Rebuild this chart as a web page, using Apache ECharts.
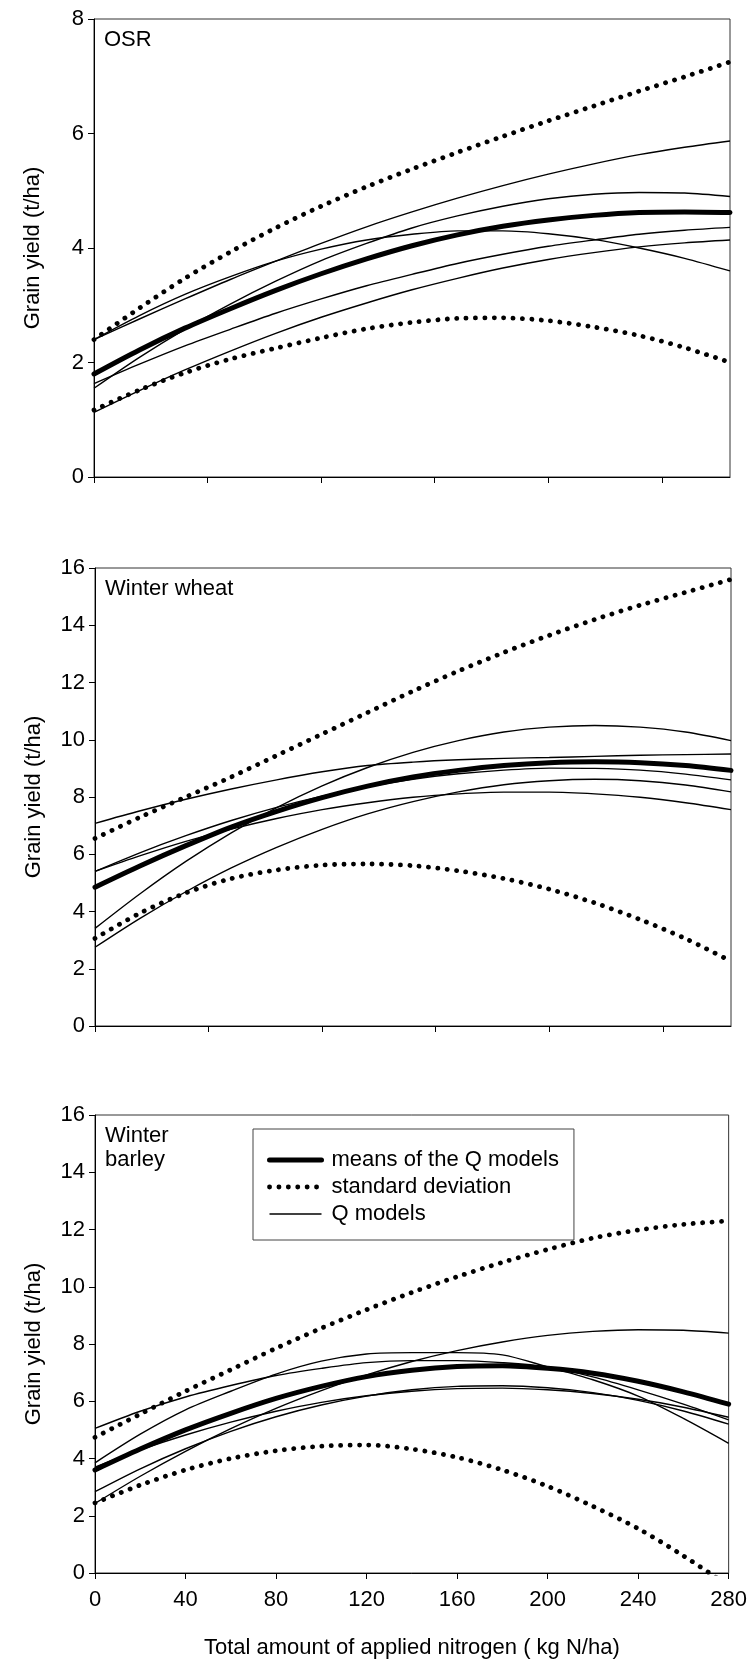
<!DOCTYPE html>
<html>
<head>
<meta charset="utf-8">
<title>Grain yield response to nitrogen</title>
<script src="https://cdn.jsdelivr.net/npm/echarts@6/dist/echarts.min.js"></script>
<style>
  html, body { margin: 0; padding: 0; background: #fff; }
  #chart { width: 750px; height: 1661px; }
</style>
</head>
<body>
<div id="chart"></div>
<script>
// nitrogen rates (kg N/ha) at which every curve was read
var nRates = [0, 20, 40, 60, 80, 100, 120, 140, 160, 180, 200, 220, 240, 260, 280];

// ---- OSR (t/ha) ----
var osrMean  = [1.8, 2.22, 2.6, 2.94, 3.26, 3.55, 3.81, 4.04, 4.23, 4.38, 4.49, 4.57, 4.62, 4.63, 4.62];
var osrUpper = [2.4, 2.95, 3.47, 3.93, 4.35, 4.73, 5.07, 5.38, 5.67, 5.95, 6.22, 6.48, 6.74, 6.99, 7.25];
var osrLower = [1.17, 1.52, 1.82, 2.06, 2.25, 2.43, 2.59, 2.7, 2.77, 2.78, 2.73, 2.62, 2.47, 2.26, 2.0];
var osrQ1 = [2.4, 2.76, 3.11, 3.45, 3.77, 4.08, 4.37, 4.63, 4.87, 5.09, 5.29, 5.47, 5.63, 5.76, 5.87];
var osrQ2 = [2.4, 2.82, 3.19, 3.5, 3.77, 3.98, 4.14, 4.24, 4.3, 4.3, 4.25, 4.15, 4.0, 3.82, 3.6];
var osrQ3 = [1.55, 2.09, 2.58, 3.02, 3.42, 3.78, 4.08, 4.35, 4.56, 4.73, 4.86, 4.94, 4.97, 4.96, 4.9];
var osrQ4 = [1.63, 1.97, 2.29, 2.58, 2.86, 3.11, 3.34, 3.54, 3.73, 3.89, 4.03, 4.14, 4.24, 4.31, 4.36];
var osrQ5 = [1.13, 1.51, 1.87, 2.2, 2.51, 2.79, 3.04, 3.27, 3.47, 3.65, 3.8, 3.92, 4.02, 4.09, 4.14];

// ---- Winter wheat ----
var wheatMean  = [4.85, 5.6, 6.3, 6.95, 7.5, 7.98, 8.38, 8.7, 8.93, 9.1, 9.2, 9.23, 9.2, 9.1, 8.93];
var wheatUpper = [6.55, 7.3, 8.0, 8.7, 9.45, 10.2, 10.95, 11.7, 12.4, 13.05, 13.65, 14.2, 14.7, 15.15, 15.6];
var wheatLower = [3.06, 3.95, 4.65, 5.15, 5.45, 5.62, 5.66, 5.6, 5.42, 5.15, 4.78, 4.3, 3.72, 3.05, 2.26];
var wheatQ1 = [7.08, 7.52, 7.92, 8.28, 8.6, 8.88, 9.1, 9.22, 9.3, 9.35, 9.38, 9.42, 9.46, 9.48, 9.5];
var wheatQ2 = [3.41, 4.63, 5.75, 6.75, 7.63, 8.39, 9.03, 9.56, 9.97, 10.27, 10.44, 10.5, 10.44, 10.27, 9.97];
var wheatQ3 = [2.75, 3.77, 4.69, 5.52, 6.24, 6.87, 7.41, 7.84, 8.18, 8.43, 8.57, 8.62, 8.57, 8.42, 8.18];
var wheatQ4 = [5.4, 6.06, 6.65, 7.18, 7.64, 8.03, 8.36, 8.62, 8.81, 8.94, 9.01, 9.0, 8.94, 8.8, 8.6];
var wheatQ5 = [5.4, 5.95, 6.45, 6.88, 7.25, 7.56, 7.8, 7.99, 8.11, 8.17, 8.17, 8.11, 7.99, 7.8, 7.56];

// ---- Winter barley ----
var barleyMean  = [3.6, 4.33, 5.0, 5.58, 6.1, 6.52, 6.86, 7.08, 7.21, 7.24, 7.15, 6.98, 6.7, 6.33, 5.9];
var barleyUpper = [4.74, 5.55, 6.35, 7.1, 7.85, 8.55, 9.2, 9.8, 10.35, 10.85, 11.3, 11.7, 11.98, 12.18, 12.3];
var barleyLower = [2.45, 3.07, 3.6, 4.0, 4.27, 4.43, 4.47, 4.33, 4.04, 3.6, 3.03, 2.33, 1.55, 0.6, -0.45];
var barleyQ1 = [5.05, 5.65, 6.15, 6.55, 6.9, 7.15, 7.35, 7.42, 7.42, 7.35, 7.2, 6.85, 6.4, 5.9, 5.35];
var barleyQ2 = [3.85, 4.85, 5.7, 6.35, 6.95, 7.4, 7.65, 7.7, 7.7, 7.62, 7.2, 6.75, 6.18, 5.4, 4.53];
var barleyQ3 = [2.43, 3.38, 4.25, 5.04, 5.75, 6.37, 6.92, 7.39, 7.77, 8.07, 8.3, 8.44, 8.5, 8.48, 8.38];
var barleyQ4 = [3.7, 4.3, 4.82, 5.27, 5.65, 5.96, 6.19, 6.35, 6.44, 6.46, 6.4, 6.27, 6.07, 5.79, 5.44];
var barleyQ5 = [2.84, 3.64, 4.34, 4.95, 5.46, 5.87, 6.18, 6.4, 6.52, 6.54, 6.47, 6.3, 6.03, 5.66, 5.2];

// tick positions
var xTicksTop = [0, 50, 100, 150, 200, 250];          // unlabelled, upper two panels
var xTicksBottom = [0, 40, 80, 120, 160, 200, 240, 280];
var yStep = 2;
var yMaxTop = 8, yMaxOther = 16;

var FONT = '"Liberation Sans", Arial, Helvetica, sans-serif';

var panels = [
    { label: 'OSR', mean: osrMean, upper: osrUpper, lower: osrLower,
      models: [osrQ1, osrQ2, osrQ3, osrQ4, osrQ5] },
    { label: 'Winter wheat', mean: wheatMean, upper: wheatUpper, lower: wheatLower,
      models: [wheatQ1, wheatQ2, wheatQ3, wheatQ4, wheatQ5] },
    { label: 'Winter\nbarley', mean: barleyMean, upper: barleyUpper, lower: barleyLower,
      models: [barleyQ1, barleyQ2, barleyQ3, barleyQ4, barleyQ5] }
];

function toPairs(ys) {
    return nRates.map(function (n, i) { return [n, ys[i]]; });
}

var grids = [
    { left: 94, top: 19, width: 636, height: 458 },
    { left: 95, top: 568, width: 636, height: 458 },
    { left: 95, top: 1115, width: 636, height: 458 }
];
grids.forEach(function (g) {
    g.show = true;
    g.borderColor = '#333';
    g.borderWidth = 1;
});

var xAxes = [], yAxes = [], series = [], titles = [];

panels.forEach(function (p, i) {
    var last = i === panels.length - 1;
    var xAxis = {
        gridIndex: i,
        type: 'value',
        min: 0,
        max: 280,
        axisLine: { show: true, onZero: false, lineStyle: { color: '#000', width: 1 } },
        axisTick: { show: true, length: 6, lineStyle: { color: '#000', width: 1 } },
        axisLabel: { show: last, color: '#000', fontSize: 22, fontFamily: FONT, margin: 16 },
        splitLine: { show: false },
        name: last ? 'Total amount of applied nitrogen ( kg N/ha)' : '',
        nameLocation: 'middle',
        nameGap: 64,
        nameTextStyle: { color: '#000', fontSize: 22, fontFamily: FONT }
    };
    if (last) {
        xAxis.interval = xTicksBottom[1] - xTicksBottom[0];
    } else {
        xAxis.axisTick.customValues = xTicksTop;
    }
    xAxes.push(xAxis);

    yAxes.push({
        gridIndex: i,
        type: 'value',
        min: 0,
        max: i === 0 ? yMaxTop : yMaxOther,
        interval: yStep,
        axisLine: { show: true, onZero: false, lineStyle: { color: '#000', width: 1 } },
        axisTick: { show: true, length: 6, lineStyle: { color: '#000', width: 1 } },
        axisLabel: { color: '#000', fontSize: 22, fontFamily: FONT, margin: 10 },
        splitLine: { show: false },
        name: 'Grain yield (t/ha)',
        nameLocation: 'middle',
        nameGap: 50,
        nameTextStyle: { color: '#000', fontSize: 22, fontFamily: FONT }
    });

    // crop name in the upper-left corner of each panel
    titles.push({
        text: p.label,
        left: grids[i].left + 10,
        top: grids[i].top + 9,
        padding: 0,
        textStyle: { color: '#000', fontSize: 22, fontWeight: 'normal', fontFamily: FONT, lineHeight: 24 }
    });

    p.models.forEach(function (m) {
        series.push({
            name: 'Q models',
            type: 'line',
            xAxisIndex: i, yAxisIndex: i,
            data: toPairs(m),
            smooth: 0.3,
            symbol: 'none',
            lineStyle: { color: '#000', width: 1.4 },
            z: 2
        });
    });
    series.push({
        name: 'means of the Q models',
        type: 'line',
        xAxisIndex: i, yAxisIndex: i,
        data: toPairs(p.mean),
        smooth: 0.3,
        symbol: 'none',
        lineStyle: { color: '#000', width: 5, cap: 'round' },
        z: 3
    });
    [p.upper, p.lower].forEach(function (sd) {
        series.push({
            name: 'standard deviation',
            type: 'line',
            xAxisIndex: i, yAxisIndex: i,
            data: toPairs(sd),
            smooth: 0.3,
            symbol: 'none',
            lineStyle: { color: '#000', width: 4.8, type: [0.1, 9.3], cap: 'round' },
            z: 3
        });
    });
});

var option = {
    backgroundColor: '#fff',
    animation: false,
    textStyle: { fontFamily: FONT },
    title: titles,
    // legend box sits inside the barley panel
    legend: {
        data: ['means of the Q models', 'standard deviation', 'Q models'],
        orient: 'vertical',
        left: 253,
        top: 1129,
        padding: [20, 15, 15, 14],
        itemWidth: 52,
        itemHeight: 20,
        itemGap: 5,
        selectedMode: false,
        backgroundColor: '#fff',
        borderColor: '#444',
        borderWidth: 1,
        borderRadius: 0,
        // no marker dot on the legend samples, only the line
        itemStyle: { opacity: 0 },
        lineStyle: { width: 'inherit' },
        textStyle: { color: '#000', fontSize: 22, fontFamily: FONT, lineHeight: 20, padding: [0, 0, 0, 5] }
    },
    grid: grids,
    xAxis: xAxes,
    yAxis: yAxes,
    series: series
};

var myChart = echarts.init(document.getElementById('chart'), null, { renderer: 'canvas' });
myChart.setOption(option);
</script>
</body>
</html>
